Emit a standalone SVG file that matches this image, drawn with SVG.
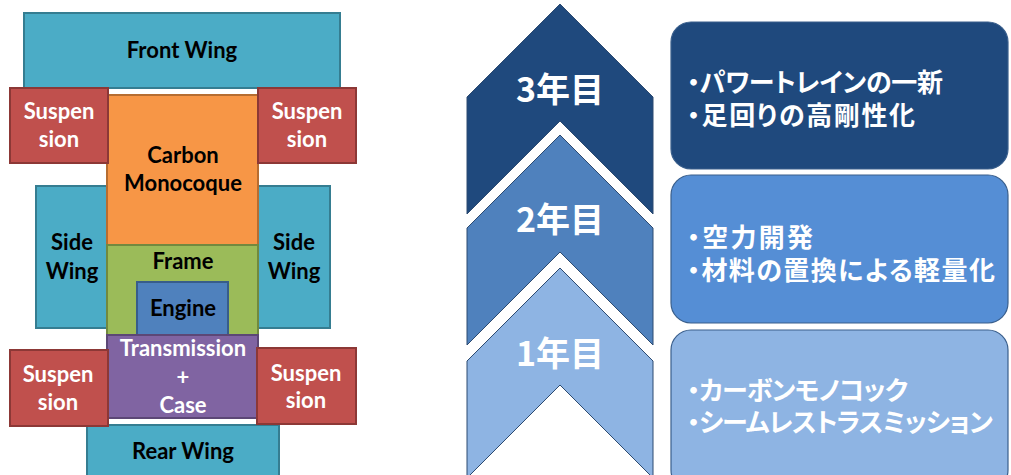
<svg xmlns="http://www.w3.org/2000/svg" width="1011" height="475" viewBox="0 0 1011 475">
<style>
.lt{font-family:Lato,"Liberation Sans",sans-serif;font-weight:700;font-size:22px;text-anchor:middle}
.blk{fill:#000}
.wht{fill:#fff}
.wing{fill:#4BACC6;stroke:#357D91;stroke-width:2}
.sus{fill:#C0504D;stroke:#8C3836;stroke-width:2}
.carb{fill:#F79646;stroke:#B66D31;stroke-width:2}
.frame{fill:#9BBB59;stroke:#71893F;stroke-width:2}
.eng{fill:#4F81BD;stroke:#385D8A;stroke-width:2}
.trans{fill:#8064A2;stroke:#5C4776;stroke-width:2}
.yr{font-family:"Noto Sans CJK JP",sans-serif;font-weight:700;font-size:34px;fill:#fff;text-anchor:middle}
.jp{font-family:"Noto Sans CJK JP",sans-serif;font-weight:700;font-size:26px;fill:#fff;font-feature-settings:"palt"}
.chev{stroke:#2C4A70;stroke-width:1}
.box{stroke:#3A5F8C;stroke-width:1.2}
</style>
<g id="front-wing"><rect class="wing" x="24" y="13" width="316" height="75"/><text class="lt blk" x="182" y="58">Front Wing</text></g>
<g id="side-wing-left"><rect class="wing" x="36" y="186" width="74" height="142"/><text class="lt blk" x="72" y="250">Side</text><text class="lt blk" x="72" y="279">Wing</text></g>
<g id="side-wing-right"><rect class="wing" x="255" y="186" width="75" height="142"/><text class="lt blk" x="294" y="250">Side</text><text class="lt blk" x="294" y="279">Wing</text></g>
<g id="carbon-monocoque"><rect class="carb" x="107" y="95" width="151" height="150"/><text class="lt blk" x="183" y="163">Carbon</text><text class="lt blk" x="183" y="191">Monocoque</text></g>
<g id="frame"><rect class="frame" x="107" y="245" width="151" height="90"/><text class="lt blk" x="183" y="269">Frame</text></g>
<g id="engine"><rect class="eng" x="137" y="282" width="91" height="53"/><text class="lt blk" x="183" y="316">Engine</text></g>
<g id="transmission"><rect class="trans" x="107" y="335" width="151" height="83"/><text class="lt wht" x="183" y="356">Transmission</text><text class="lt wht" x="183" y="385">+</text><text class="lt wht" x="183" y="413">Case</text></g>
<g id="rear-wing"><rect class="wing" x="87" y="425" width="192" height="60"/><text class="lt blk" x="183" y="459">Rear Wing</text></g>
<g id="suspension-fl"><rect class="sus" x="10" y="88" width="98" height="75"/><text class="lt wht" x="59" y="119">Suspen</text><text class="lt wht" x="59" y="147">sion</text></g>
<g id="suspension-fr"><rect class="sus" x="258" y="88" width="98" height="75"/><text class="lt wht" x="307" y="119">Suspen</text><text class="lt wht" x="307" y="147">sion</text></g>
<g id="suspension-rl"><rect class="sus" x="10" y="350" width="98" height="76"/><text class="lt wht" x="58" y="382">Suspen</text><text class="lt wht" x="58" y="410">sion</text></g>
<g id="suspension-rr"><rect class="sus" x="257" y="348" width="99" height="76"/><text class="lt wht" x="306" y="381">Suspen</text><text class="lt wht" x="306" y="408">sion</text></g>

<g id="year3"><polygon class="chev" fill="#1F497D" points="467,97 560,4 653,97 653,214 560,121 467,214"/><text class="yr" x="560" y="102">3年目</text></g>
<g id="year2"><polygon class="chev" fill="#4F81BD" points="467,228 560,135 653,228 653,345 560,252 467,345"/><text class="yr" x="560" y="232">2年目</text></g>
<g id="year1"><polygon class="chev" fill="#8EB4E3" points="467,361 560,268 653,361 653,478 560,385 467,478"/><text class="yr" x="560" y="366">1年目</text></g>

<g id="box3"><rect class="box" fill="#1F497D" x="671" y="22" width="337" height="147" rx="20"/><text class="jp" x="687" y="92" textLength="256">・パワートレインの一新</text><text class="jp" x="687" y="125" textLength="228">・足回りの高剛性化</text></g>
<g id="box2"><rect class="box" fill="#558ED5" x="671" y="175" width="337" height="148" rx="20"/><text class="jp" x="687" y="247" textLength="126">・空力開発</text><text class="jp" x="687" y="280" textLength="308">・材料の置換による軽量化</text></g>
<g id="box1"><rect class="box" fill="#8EB4E3" x="671" y="330" width="337" height="160" rx="20"/><text class="jp" x="687" y="400" textLength="221">・カーボンモノコック</text><text class="jp" x="687" y="432" textLength="306">・シームレストラスミッション</text></g>
<g id="connectors"></g>
</svg>
